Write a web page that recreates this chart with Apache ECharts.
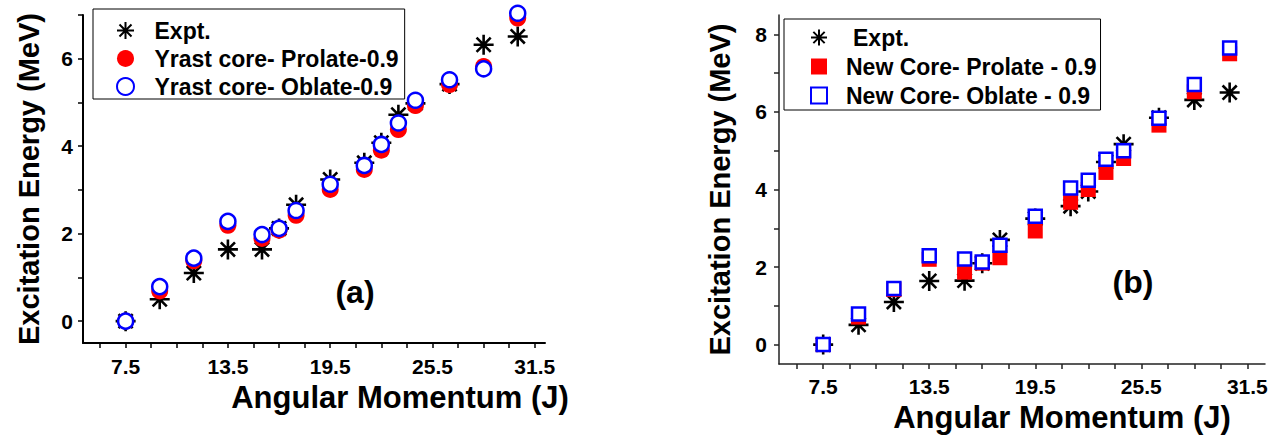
<!DOCTYPE html>
<html>
<head>
<meta charset="utf-8">
<script src="https://cdn.jsdelivr.net/npm/echarts@6/dist/echarts.min.js"></script>
<style>
  html, body { margin: 0; padding: 0; background: #fff; }
  #chart { width: 1286px; height: 438px; }
</style>
</head>
<body>
<div id="chart"></div>
<script>
// Angular momentum of each level (J)
const spins = [7.5, 9.5, 11.5, 13.5, 15.5, 16.5, 17.5, 19.5, 21.5, 22.5, 23.5, 24.5, 26.5, 28.5, 30.5];

// Panel (a): experiment vs. yrast-core calculations (MeV)
const exptA    = [0, 0.50, 1.10, 1.64, 1.64, 2.12, 2.66, 3.24, 3.62, 4.08, 4.72, 4.98, 5.42, 6.32, 6.51];
const prolateA = [0, 0.69, 1.38, 2.19, 1.89, 2.08, 2.42, 3.01, 3.47, 3.91, 4.38, 4.93, 5.41, 5.82, 6.93];
const oblateA  = [0, 0.79, 1.44, 2.28, 1.98, 2.12, 2.53, 3.13, 3.56, 4.04, 4.53, 5.05, 5.52, 5.77, 7.04];

// Panel (b): experiment vs. new-core calculations (MeV)
const exptB    = [0, 0.51, 1.10, 1.64, 1.65, 2.10, 2.70, 3.25, 3.57, 3.95, 4.71, 5.17, 5.85, 6.31, 6.50];
const prolateB = [0, 0.71, 1.42, 2.20, 1.87, 2.10, 2.24, 2.93, 3.67, 4.00, 4.44, 4.80, 5.66, 6.52, 7.50];
const oblateB  = [0, 0.79, 1.45, 2.29, 2.21, 2.13, 2.56, 3.31, 4.04, 4.24, 4.78, 5.00, 5.84, 6.71, 7.65];

// Tick positions and labels
const xTicks   = [6, 7.5, 9, 10.5, 12, 13.5, 15, 16.5, 18, 19.5, 21, 22.5, 24, 25.5, 27, 28.5, 30, 31.5];
const xLabels  = [7.5, 13.5, 19.5, 25.5, 31.5];
const yTicksA  = [0, 1, 2, 3, 4, 5, 6, 7];
const yLabelsA = [0, 2, 4, 6];
const yTicksB  = [0, 1, 2, 3, 4, 5, 6, 7, 8];
const yLabelsB = [0, 2, 4, 6, 8];

const names = {
  expt: 'Expt.',
  proA: 'Yrast core- Prolate-0.9',
  oblA: 'Yrast core- Oblate-0.9',
  proB: 'New Core- Prolate - 0.9',
  oblB: 'New Core- Oblate - 0.9'
};

const FONT = "'Liberation Sans', Arial, sans-serif";
const STAR = 'path://M0,-10L0,10M-10,0L10,0M-7.07,-7.07L7.07,7.07M-7.07,7.07L7.07,-7.07';
const SQUARE = 'path://M0,0L10,0L10,10L0,10Z';

const pairs = (ys) => spins.map((j, i) => [j, ys[i]]);

function xAxisFor(gridIndex, max, lineW, lineC, labelMargin, nameGap, shift) {
  return {
    type: 'value', gridIndex, min: 5, max,
    name: 'Angular Momentum (J)', nameLocation: 'middle', nameGap,
    nameTextStyle: { fontFamily: FONT, fontWeight: 'bold', fontSize: 31, color: '#000', padding: [0, 0, 0, shift] },
    axisLine: { show: true, onZero: false, lineStyle: { color: lineC, width: lineW } },
    axisTick: { show: true, length: 5, customValues: xTicks, lineStyle: { color: lineC, width: 1.5 } },
    axisLabel: { customValues: xLabels, margin: labelMargin, fontFamily: FONT, fontWeight: 'bold', fontSize: 21, color: '#000' },
    splitLine: { show: false }
  };
}

function yAxisFor(gridIndex, max, ticks, labels, lineW, lineC, labelMargin, nameGap) {
  return {
    type: 'value', gridIndex, min: -0.5, max,
    name: 'Excitation Energy (MeV)', nameLocation: 'middle', nameGap,
    nameTextStyle: { fontFamily: FONT, fontWeight: 'bold', fontSize: 29, color: '#000' },
    axisLine: { show: true, onZero: false, lineStyle: { color: lineC, width: lineW } },
    axisTick: { show: true, length: 5, customValues: ticks, lineStyle: { color: lineC, width: 1.5 } },
    axisLabel: { customValues: labels, margin: labelMargin, fontFamily: FONT, fontWeight: 'bold', fontSize: 21, color: '#000' },
    splitLine: { show: false }
  };
}

function exptSeries(idx, ys) {
  return {
    type: 'scatter', name: names.expt, xAxisIndex: idx, yAxisIndex: idx, clip: false,
    data: pairs(ys), symbol: STAR, symbolSize: 20,
    itemStyle: { color: '#000', borderColor: '#000', borderWidth: 2.6, opacity: 1 }
  };
}

const legendText = { fontFamily: FONT, fontWeight: 'bold', fontSize: 23, color: '#000' };

const chart = echarts.init(document.getElementById('chart'), null, { renderer: 'svg' });

chart.setOption({
  animation: false,
  backgroundColor: '#fff',
  grid: [
    { left: 83, right: 741, top: 15, bottom: 95 },
    { left: 779, right: 21, top: 15, bottom: 74 }
  ],
  xAxis: [
    xAxisFor(0, 32.1, 2, '#000', 13, 37, 172),
    xAxisFor(1, 32.5, 1.5, '#222', 12, 33, 80)
  ],
  yAxis: [
    yAxisFor(0, 7, yTicksA, yLabelsA, 2, '#000', 10, 40),
    yAxisFor(1, 8.5, yTicksB, yLabelsB, 1.5, '#222', 12, 45)
  ],
  legend: [
    {
      orient: 'vertical', left: 93, top: 9,
      padding: [10, 6, 1, 23], itemWidth: 48, itemHeight: 17, itemGap: 5,
      borderColor: '#000', borderWidth: 1, backgroundColor: '#fff',
      selectedMode: false, textStyle: legendText,
      data: [
        { name: names.expt, icon: STAR },
        { name: names.proA, icon: 'circle' },
        { name: names.oblA, icon: 'circle' }
      ]
    },
    {
      orient: 'vertical', left: 784, top: 19,
      padding: [7, 4, 3, 26], itemWidth: 44, itemHeight: 16, itemGap: 6,
      borderColor: '#000', borderWidth: 1, backgroundColor: '#fff',
      selectedMode: false, textStyle: legendText,
      data: [
        { name: names.expt, icon: STAR, textStyle: { padding: [0, 0, 0, 7] } },
        { name: names.proB, icon: SQUARE },
        { name: names.oblB, icon: SQUARE }
      ]
    }
  ],
  graphic: [
    { type: 'text', x: 355, y: 292, style: { text: '(a)', font: "bold 32px 'Liberation Sans', Arial, sans-serif", fill: '#000', align: 'center', verticalAlign: 'middle' } },
    { type: 'text', x: 1133, y: 282, style: { text: '(b)', font: "bold 32px 'Liberation Sans', Arial, sans-serif", fill: '#000', align: 'center', verticalAlign: 'middle' } }
  ],
  series: [
    exptSeries(0, exptA),
    {
      type: 'scatter', name: names.proA, xAxisIndex: 0, yAxisIndex: 0, clip: false,
      data: pairs(prolateA), symbol: 'circle', symbolSize: 17,
      itemStyle: { color: '#ff0000', opacity: 1 }
    },
    {
      type: 'scatter', name: names.oblA, xAxisIndex: 0, yAxisIndex: 0, clip: false,
      data: pairs(oblateA), symbol: 'circle', symbolSize: 15,
      itemStyle: { color: '#fff', borderColor: '#0000ff', borderWidth: 2.5, opacity: 1 }
    },
    exptSeries(1, exptB),
    {
      type: 'scatter', name: names.proB, xAxisIndex: 1, yAxisIndex: 1, clip: false,
      data: pairs(prolateB), symbol: 'rect', symbolSize: 15,
      itemStyle: { color: '#ff0000', opacity: 1 }
    },
    {
      type: 'scatter', name: names.oblB, xAxisIndex: 1, yAxisIndex: 1, clip: false,
      data: pairs(oblateB), symbol: 'rect', symbolSize: 13,
      itemStyle: { color: '#fff', borderColor: '#0000ff', borderWidth: 2.5, opacity: 1 }
    }
  ]
});
</script>
</body>
</html>
